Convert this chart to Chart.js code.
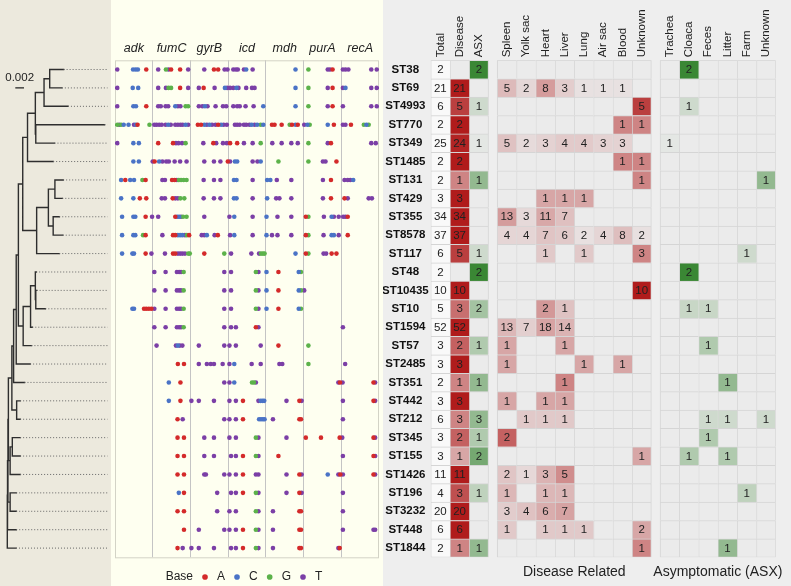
<!DOCTYPE html>
<html>
<head>
<meta charset="utf-8">
<title>ST tree, SNPs and sources</title>
<script src="https://cdn.jsdelivr.net/npm/chart.js@4.4.0/dist/chart.umd.min.js"></script>
<style>
  html, body { margin: 0; padding: 0; background: #fff; }
  #wrap { position: relative; width: 791px; height: 586px; overflow: hidden; }
  .panel { position: absolute; top: 0; height: 586px; }
  #treeBox { left: 0; width: 111px; background: #ece9dd; }
  #dotBox { left: 111px; width: 272px; background: #fefff0; }
  #tabBox { left: 383px; width: 408px; background: #eeeeee; }
</style>
</head>
<body>
<div id="wrap">
  <div class="panel" id="treeBox"><canvas id="tree"></canvas></div>
  <div class="panel" id="dotBox"><canvas id="dots"></canvas></div>
  <div class="panel" id="tabBox"><canvas id="table"></canvas></div>
</div>
<script>
// ---- data ----
const sts = ['ST38', 'ST69', 'ST4993', 'ST770', 'ST349', 'ST1485', 'ST131', 'ST429', 'ST355', 'ST8578',
  'ST117', 'ST48', 'ST10435', 'ST10', 'ST1594', 'ST57', 'ST2485', 'ST351', 'ST442', 'ST212',
  'ST345', 'ST155', 'ST1426', 'ST196', 'ST3232', 'ST448', 'ST1844'];

const total   = [2, 21, 6, 2, 25, 2, 2, 3, 34, 37, 6, 2, 10, 5, 52, 3, 3, 2, 3, 6, 3, 3, 11, 4, 20, 6, 2];
const disease = [0, 21, 5, 2, 24, 2, 1, 3, 34, 37, 5, 0, 10, 3, 52, 2, 3, 1, 3, 3, 2, 1, 11, 3, 20, 6, 1];
const asx     = [2, 0, 1, 0, 1, 0, 1, 0, 0, 0, 1, 2, 0, 2, 0, 1, 0, 1, 0, 3, 1, 2, 0, 1, 0, 0, 1];

// disease related sites
const spleen   = [0, 5, 0, 0, 5, 0, 0, 0, 13, 4, 0, 0, 0, 0, 13, 1, 1, 0, 1, 0, 2, 0, 2, 1, 3, 1, 0];
const yolkSac  = [0, 2, 0, 0, 2, 0, 0, 0, 3, 4, 0, 0, 0, 0, 7, 0, 0, 0, 0, 1, 0, 0, 1, 0, 4, 0, 0];
const heart    = [0, 8, 0, 0, 3, 0, 0, 1, 11, 7, 1, 0, 0, 2, 18, 0, 0, 0, 1, 1, 0, 0, 3, 1, 6, 1, 0];
const liver    = [0, 3, 0, 0, 4, 0, 0, 1, 7, 6, 0, 0, 0, 1, 14, 1, 0, 1, 1, 1, 0, 0, 5, 1, 7, 1, 0];
const lung     = [0, 1, 0, 0, 4, 0, 0, 1, 0, 2, 1, 0, 0, 0, 0, 0, 1, 0, 0, 0, 0, 0, 0, 0, 0, 1, 0];
const airSac   = [0, 1, 0, 0, 3, 0, 0, 0, 0, 4, 0, 0, 0, 0, 0, 0, 0, 0, 0, 0, 0, 0, 0, 0, 0, 0, 0];
const blood    = [0, 1, 0, 1, 3, 1, 0, 0, 0, 8, 0, 0, 0, 0, 0, 0, 1, 0, 0, 0, 0, 0, 0, 0, 0, 0, 0];
const unknownD = [0, 0, 5, 1, 0, 1, 1, 0, 0, 2, 3, 0, 10, 0, 0, 0, 0, 0, 0, 0, 0, 1, 0, 0, 0, 2, 1];

// asymptomatic sites
const trachea  = [0, 0, 0, 0, 1, 0, 0, 0, 0, 0, 0, 0, 0, 0, 0, 0, 0, 0, 0, 0, 0, 0, 0, 0, 0, 0, 0];
const cloaca   = [2, 0, 1, 0, 0, 0, 0, 0, 0, 0, 0, 2, 0, 1, 0, 0, 0, 0, 0, 0, 0, 1, 0, 0, 0, 0, 0];
const feces    = [0, 0, 0, 0, 0, 0, 0, 0, 0, 0, 0, 0, 0, 1, 0, 1, 0, 0, 0, 1, 1, 0, 0, 0, 0, 0, 0];
const litter   = [0, 0, 0, 0, 0, 0, 0, 0, 0, 0, 0, 0, 0, 0, 0, 0, 0, 1, 0, 1, 0, 1, 0, 0, 0, 0, 1];
const farm     = [0, 0, 0, 0, 0, 0, 0, 0, 0, 0, 1, 0, 0, 0, 0, 0, 0, 0, 0, 0, 0, 0, 0, 1, 0, 0, 0];
const unknownA = [0, 0, 0, 0, 0, 0, 1, 0, 0, 0, 0, 0, 0, 0, 0, 0, 0, 0, 0, 1, 0, 0, 0, 0, 0, 0, 0];

const groupLabels = ['Disease Related', 'Asymptomatic (ASX)'];

// MLST loci, each split into the same number of position bins
const loci = ['adk', 'fumC', 'gyrB', 'icd', 'mdh', 'purA', 'recA'];
const LOCUS_BINS = 117;
const bases = ['A', 'C', 'G', 'T'];

// SNPs per ST: "<bin><base>", bins counted over the concatenated loci
const snpRows = [
  '7T 56C 64C 71C 97A 134T 158G 166T 174A 202A 227T 277T 307A 320A 340T 349T 367T 375T 381T 400T 407C 427T 560C 600G 660T 667T 675A 707T 715T 724T 795T 812T',
  '7T 55C 72C 134T 158T 166G 174G 202A 227T 260T 275A 309T 341C 348T 357T 367T 377C 383T 407T 425T 433T 560C 600G 660T 675A 707T 715C 795T 812T',
  '7T 57C 65C 97A 134T 142T 157T 165T 187C 195T 203T 219G 227G 260T 271T 279C 287T 312T 335T 345T 367T 379T 387T 405T 430T 460C 560C 600G 660T 675A 707T 795T 812T',
  '7G 13T 19G 27C 42C 59T 65C 70A 107G 122T 129T 137T 145T 157T 165C 173T 187T 195T 203T 210T 219C 227T 257A 267A 277C 285T 293C 301T 312T 320A 329C 337T 347T 372T 379T 387T 400T 407T 417T 424C 433T 441C 452G 460C 487A 495A 517A 542G 549A 560C 567A 587T 597C 604G 660C 679A 707T 715T 732A 772G 780C 787G',
  '7T 57C 74C 134A 180A 189T 197T 208T 219G 274T 305A 314T 335T 347T 357A 379A 400T 427T 452G 488T 517T 547T 567T 600G 660T 670A 795T 809T',
  '57C 74C 117T 123A 137C 147T 159T 167T 185T 202T 222T 277T 307T 327T 350A 357T 372C 379C 427T 442T 452C 507G 600G 645T 653T 687A',
  '19C 32A 47C 59C 85G 95A 147T 155T 177A 185A 192T 198G 205G 213G 222G 275T 307T 327T 369C 377C 427T 472C 482C 502T 547T 645T 670A 712T 722T 730T 739C',
  '19C 57C 77A 97A 145T 155T 179A 187T 195T 203G 215G 275T 307T 327T 369C 377C 427T 472C 500T 510T 547T 645T 670A 712A 722T 787T 797T',
  '22C 57C 63C 95A 115T 134T 187A 193C 199C 205T 211G 222G 277T 355T 370C 427T 470C 504T 547T 592A 600G 648T 672C 679T 694T 708T 715T 722A',
  '22C 57C 63C 87G 95A 147T 180A 187A 195C 202C 209C 217T 223G 230A 269T 277T 285C 309T 319A 357T 370C 427T 470C 487T 504T 547T 592A 600G 647T 672C 679C 694T 722A',
  '22C 54C 59C 95A 113T 155T 180A 187A 195T 202T 209T 217T 227G 232G 277A 339G 360T 423T 447T 453G 459G 464G 560C 592A 600G 647T 655T 672A 687A',
  '122T 157T 192T 199T 205T 213G 339T 360T 437G 445T 470C 507A 570C 577G',
  '122T 157T 192T 199T 205T 213G 339T 360T 437G 445T 470C 507A 570C 577G 587T',
  '54C 59C 90A 97A 105A 113A 122T 157T 192T 199T 205T 213G 339T 360T 437G 445T 470C 507A 570C 577G',
  '122T 157T 192T 199T 205T 213G 339T 360T 375T 437A 445T 707T',
  '129T 189T 195C 201T 209T 260T 339T 355T 375T 452T 507A 600G',
  '195A 214A 260T 285T 297T 307T 334T 355T 370C 424T 452T 510T 519T 600G 714T',
  '167C 203A 339T 355T 370C 425G 431G 437T 693T 698A 706T 802A 807T',
  '167C 203A 237T 260T 307T 355T 375T 397A 445T 452C 458C 463C 532T 572A 579T 707T 802A 807T',
  '194A 210T 339T 355T 375T 397A 447C 453C 459C 464C 490T 572A 577A 707T',
  '194A 214A 277T 307T 355T 375T 437G 445T 532T 592A 639A 697A 705T 802A 807T',
  '194A 214A 277T 307T 360T 375T 397A 437G 445T 507A 707T 802A 807T',
  '194A 214A 277T 282T 339T 355T 375T 397A 437T 445T 532T 572A 579T 660C 693T 699A 707T 802A 807T',
  '198C 214A 317T 360T 375T 397A 437G 445T 532T 572A 579T 707T',
  '194A 214A 317T 355T 375T 437G 445T 490T 572A 577A 707T',
  '214A 260T 339T 355T 375T 397A 437G 445T 490T 572A 577A 707T 802T 807T',
  '194A 210T 237T 260T 307T 360T 375T 397A 437G 445T 490T 572A 577A 693T 697A'
];

// tree (substitutions per site)
const treeNewick =
  '(((((((((((((ST38:0.0032,ST69:0.0028):0.0013,ST4993:0.0055):0.0020,(ST770:0.0158,ST349:0.0043):0.0001):0.0018,ST1485:0.0059):0.0011' +
  ',(((ST131:0.0019,ST429:0.0017):0.0015,(ST355:0.0014,ST8578:0.0022):0.0011):0.0027,ST117:0.0052):0.0032):0.0010,' +
  '(((ST48:0.0002,(ST10435:0.0002,ST10:0.0022):0.0001):0.0011,ST1594:0.0004):0.0017,ST57:0.0019):0.0011):0.0005,ST2485:0.0032):0.0006,' +
  'ST351:0.0025):0.0004,(ST442:0.0008,ST212:0.0008):0.0011):0.0008,' +
  '((ST345:0.0018,ST155:0.0018):0.0005,ST1426:0.0023):0.0004):0.0001,(ST196:0.0014,ST3232:0.0014):0.0005):0.0001,ST448:0.0020):0.00005,ST1844:0.0020);';
const scaleBarLength = 0.002;

// ---- shared layout ----
const FONT = "'Liberation Sans', Arial, sans-serif";
const GRID_TOP = 60.3;      // px above the first row
const GRID_BOTTOM = 28.7;   // px below the last row
const ROW_MIN = -0.5, ROW_MAX = sts.length - 0.5;

Chart.defaults.font.family = FONT;
Chart.defaults.color = '#222';
Chart.defaults.animation = false;
Chart.defaults.events = [];
Chart.defaults.plugins.tooltip.enabled = false;

// ---- tree ----
function parseNewick(s) {
  let i = 0;
  function node() {
    const n = { children: [], name: '', len: 0 };
    if (s[i] === '(') {
      i++;
      n.children.push(node());
      while (s[i] === ',') { i++; n.children.push(node()); }
      i++; // ')'
    }
    while (i < s.length && !',():;'.includes(s[i])) n.name += s[i++];
    if (s[i] === ':') {
      i++;
      let num = '';
      while (i < s.length && !',();'.includes(s[i])) num += s[i++];
      n.len = parseFloat(num);
    }
    return n;
  }
  return node();
}

function placeNodes(n, depth) {
  n.x = depth + n.len;
  if (!n.children.length) { n.y = sts.indexOf(n.name); return; }
  n.children.forEach(c => placeNodes(c, n.x));
  n.y = (n.children[0].y + n.children[n.children.length - 1].y) / 2;
}

const UNITS_PER_PX = 0.00023;
const treeMin = -7.3 * UNITS_PER_PX;
const treeMax = treeMin + 111 * UNITS_PER_PX;
const leaderEnd = treeMin + 107.5 * UNITS_PER_PX;

const root = parseNewick(treeNewick);
placeNodes(root, 0);

const branchPts = [], leaderPts = [];
const BREAK = { x: null, y: null };
function collect(n, parentX) {
  if (parentX !== null) branchPts.push({ x: parentX, y: n.y }, { x: n.x, y: n.y }, BREAK);
  if (n.children.length) {
    branchPts.push({ x: n.x, y: n.children[0].y }, { x: n.x, y: n.children[n.children.length - 1].y }, BREAK);
    n.children.forEach(c => collect(c, n.x));
  } else {
    leaderPts.push({ x: n.x, y: n.y }, { x: leaderEnd, y: n.y }, BREAK);
  }
}
collect(root, null);

const scaleBarStart = 8 * UNITS_PER_PX;
const scaleBarRow = 1.0;

const scaleLabel = {
  id: 'scaleLabel',
  afterDatasetsDraw(chart) {
    const { x, y } = chart.scales;
    const ctx = chart.ctx;
    ctx.save();
    ctx.font = `11.5px ${FONT}`;
    ctx.fillStyle = '#222';
    ctx.textAlign = 'center';
    ctx.textBaseline = 'middle';
    ctx.fillText(String(scaleBarLength), x.getPixelForValue(scaleBarStart + scaleBarLength / 2),
      y.getPixelForValue(scaleBarRow) - 10.5);
    ctx.restore();
  }
};

new Chart(document.getElementById('tree'), {
  type: 'scatter',
  data: {
    datasets: [
      { data: leaderPts, showLine: true, borderColor: '#666', borderWidth: 1, borderDash: [1, 2], pointRadius: 0 },
      { data: branchPts, showLine: true, borderColor: '#2e2e2e', borderWidth: 1.4, borderCapStyle: 'square', pointRadius: 0 },
      { data: [{ x: scaleBarStart, y: scaleBarRow }, { x: scaleBarStart + scaleBarLength, y: scaleBarRow }],
        showLine: true, borderColor: '#222', borderWidth: 1.4, pointRadius: 0 }
    ]
  },
  options: {
    responsive: true,
    maintainAspectRatio: false,
    layout: { padding: { top: GRID_TOP, bottom: GRID_BOTTOM, left: 0, right: 0 } },
    plugins: { legend: { display: false } },
    scales: {
      x: { type: 'linear', min: treeMin, max: treeMax, display: false },
      y: { type: 'linear', min: ROW_MIN, max: ROW_MAX, reverse: true, display: false }
    }
  },
  plugins: [scaleLabel]
});

// ---- SNP dot plot ----
const baseColors = { A: '#d42a2a', C: '#4a73c6', G: '#5cb24a', T: '#7b3fa6' };
const dotSets = bases.map(b => ({
  label: b, data: [], backgroundColor: baseColors[b], borderWidth: 0,
  pointRadius: 2.3, pointStyle: 'circle'
}));
snpRows.forEach((row, r) => {
  row.split(' ').forEach(tok => {
    const b = tok.slice(-1);
    dotSets[bases.indexOf(b)].data.push({ x: +tok.slice(0, -1), y: r });
  });
});

const locusTicks = [];
loci.forEach((l, k) => {
  if (k > 0) locusTicks.push({ value: k * LOCUS_BINS });
  locusTicks.push({ value: k * LOCUS_BINS + LOCUS_BINS / 2 });
});

const panelFrame = {
  id: 'panelFrame',
  beforeDatasetsDraw(chart) {
    const a = chart.chartArea, ctx = chart.ctx;
    ctx.save();
    ctx.strokeStyle = '#d3d3c6';
    ctx.lineWidth = 1;
    ctx.strokeRect(a.left + 0.5, a.top + 0.5, a.right - a.left - 1, a.bottom - a.top);
    ctx.restore();
  },
  afterLayout(chart) {
    // shift the legend a bit left so the hidden "Base" marker does not push it off centre
    const lg = chart.legend;
    if (lg) { lg.left -= 12; lg.right -= 12; }
  }
};

new Chart(document.getElementById('dots'), {
  type: 'scatter',
  data: { datasets: dotSets },
  options: {
    responsive: true,
    maintainAspectRatio: false,
    layout: { padding: 0 },
    plugins: {
      legend: {
        position: 'bottom',
        maxHeight: GRID_BOTTOM,
        title: { display: true, text: '', font: { size: 1 }, padding: { top: 6.5, bottom: 0 } },
        labels: {
          usePointStyle: true, boxWidth: 12, boxHeight: 4, padding: 6,
          font: { size: 12 }, color: '#222',
          generateLabels(chart) {
            const items = Chart.defaults.plugins.legend.labels.generateLabels(chart);
            items.unshift({ text: 'Base', fillStyle: 'rgba(0,0,0,0)', strokeStyle: 'rgba(0,0,0,0)',
              lineWidth: 0, pointStyle: 'circle', hidden: false, datasetIndex: -1 });
            return items;
          }
        }
      }
    },
    scales: {
      x: {
        type: 'linear', position: 'top', min: 0, max: loci.length * LOCUS_BINS,
        afterBuildTicks: s => { s.ticks = locusTicks.map(t => ({ value: t.value })); },
        afterFit: s => { s.height = GRID_TOP; },
        ticks: {
          autoSkip: false, maxRotation: 0, padding: 4.5,
          font: { size: 12.5, style: 'italic' }, color: '#222',
          callback: v => (v % LOCUS_BINS === 0 ? '' : loci[Math.floor(v / LOCUS_BINS)])
        },
        grid: {
          drawTicks: false, lineWidth: 1,
          color: c => (c.tick && c.tick.value % LOCUS_BINS === 0 ? '#c4c4c4' : 'rgba(0,0,0,0)')
        },
        border: { display: false }
      },
      y: { type: 'linear', min: ROW_MIN, max: ROW_MAX, reverse: true, display: false }
    }
  },
  plugins: [panelFrame]
});

// ---- source table ----
const tableCols = [
  { name: 'Total', values: total, tone: null },
  { name: 'Disease', values: disease, tone: 'red' },
  { name: 'ASX', values: asx, tone: 'green' },
  { name: 'Spleen', values: spleen, tone: 'red' },
  { name: 'Yolk sac', values: yolkSac, tone: 'red' },
  { name: 'Heart', values: heart, tone: 'red' },
  { name: 'Liver', values: liver, tone: 'red' },
  { name: 'Lung', values: lung, tone: 'red' },
  { name: 'Air sac', values: airSac, tone: 'red' },
  { name: 'Blood', values: blood, tone: 'red' },
  { name: 'Unknown', values: unknownD, tone: 'red' },
  { name: 'Trachea', values: trachea, tone: 'green' },
  { name: 'Cloaca', values: cloaca, tone: 'green' },
  { name: 'Feces', values: feces, tone: 'green' },
  { name: 'Litter', values: litter, tone: 'green' },
  { name: 'Farm', values: farm, tone: 'green' },
  { name: 'Unknown', values: unknownA, tone: 'green' }
];
const GROUP_GAP = 0.45;
const colLeft = i => i + (i >= 3 ? GROUP_GAP : 0) + (i >= 11 ? GROUP_GAP : 0);
const tableMax = colLeft(tableCols.length - 1) + 1;
const groupEnds = [2, 10, 16];
const groupCenters = [(colLeft(3) + colLeft(10) + 1) / 2, (colLeft(11) + colLeft(16) + 1) / 2];

const EMPTY = [235, 235, 235];
const TONES = { red: [176, 28, 28], green: [58, 135, 52] };
function cellColor(tone, v, tot) {
  if (!tone) return '#f9f9f9';
  if (!v) return 'rgb(235,235,235)';
  const f = v / tot, end = TONES[tone];
  const c = EMPTY.map((e, k) => Math.round(e + (end[k] - e) * f));
  return `rgb(${c[0]},${c[1]},${c[2]})`;
}

const tableSets = tableCols.map((c, i) => ({
  label: c.name,
  data: sts.map(() => [colLeft(i), colLeft(i) + 1]),
  backgroundColor: sts.map((_, r) => cellColor(c.tone, c.values[r], total[r])),
  borderColor: '#d5d5d5',
  borderWidth: ctx => ({
    top: 1, left: 1,
    right: groupEnds.includes(i) ? 1 : 0,
    bottom: ctx.dataIndex === sts.length - 1 ? 1 : 0
  }),
  borderSkipped: false,
  grouped: false,
  barPercentage: 1,
  categoryPercentage: 1
}));

const cellText = {
  id: 'cellText',
  afterDatasetsDraw(chart) {
    const ctx = chart.ctx;
    ctx.save();
    ctx.font = `11.5px ${FONT}`;
    ctx.fillStyle = '#222';
    ctx.textAlign = 'center';
    ctx.textBaseline = 'middle';
    tableCols.forEach((c, i) => {
      chart.getDatasetMeta(i).data.forEach((el, r) => {
        const v = c.values[r];
        if (!v) return;
        const p = el.getCenterPoint();
        ctx.fillText(String(v), p.x, p.y + 0.5);
      });
    });
    ctx.restore();
  }
};

const HEADER_SIZE = 11.5;

new Chart(document.getElementById('table'), {
  type: 'bar',
  data: { labels: sts, datasets: tableSets },
  options: {
    indexAxis: 'y',
    responsive: true,
    maintainAspectRatio: false,
    layout: { padding: { top: 0, bottom: 0, left: 0, right: 2.3 } },
    plugins: { legend: { display: false } },
    scales: {
      x: {
        type: 'linear', position: 'top', min: 0, max: tableMax,
        afterBuildTicks: s => { s.ticks = tableCols.map((c, i) => ({ value: colLeft(i) + 0.5 })); },
        afterFit: s => { s.height = GRID_TOP; },
        ticks: {
          autoSkip: false, minRotation: 90, maxRotation: 90, padding: 3,
          // rotated top labels are drawn one line-height left of the tick; pull them back over the column
          labelOffset: HEADER_SIZE * 1.2,
          font: { size: HEADER_SIZE }, color: '#222',
          callback: (v, i) => tableCols[i].name
        },
        grid: { display: false, drawTicks: false },
        border: { display: false }
      },
      xb: {
        type: 'linear', position: 'bottom', min: 0, max: tableMax,
        afterBuildTicks: s => { s.ticks = groupCenters.map(v => ({ value: v })); },
        afterFit: s => { s.height = GRID_BOTTOM; },
        ticks: { autoSkip: false, maxRotation: 0, padding: 6, font: { size: 14 }, color: '#222',
          callback: (v, i) => groupLabels[i] },
        grid: { display: false, drawTicks: false },
        border: { display: false }
      },
      y: {
        type: 'category', position: 'left',
        afterFit: s => { s.width = 47.7; },
        ticks: { crossAlign: 'center', padding: 2, font: { size: 11.5, weight: 'bold' }, color: '#111' },
        grid: { display: false, drawTicks: false },
        border: { display: false }
      }
    }
  },
  plugins: [cellText]
});
</script>
</body>
</html>
